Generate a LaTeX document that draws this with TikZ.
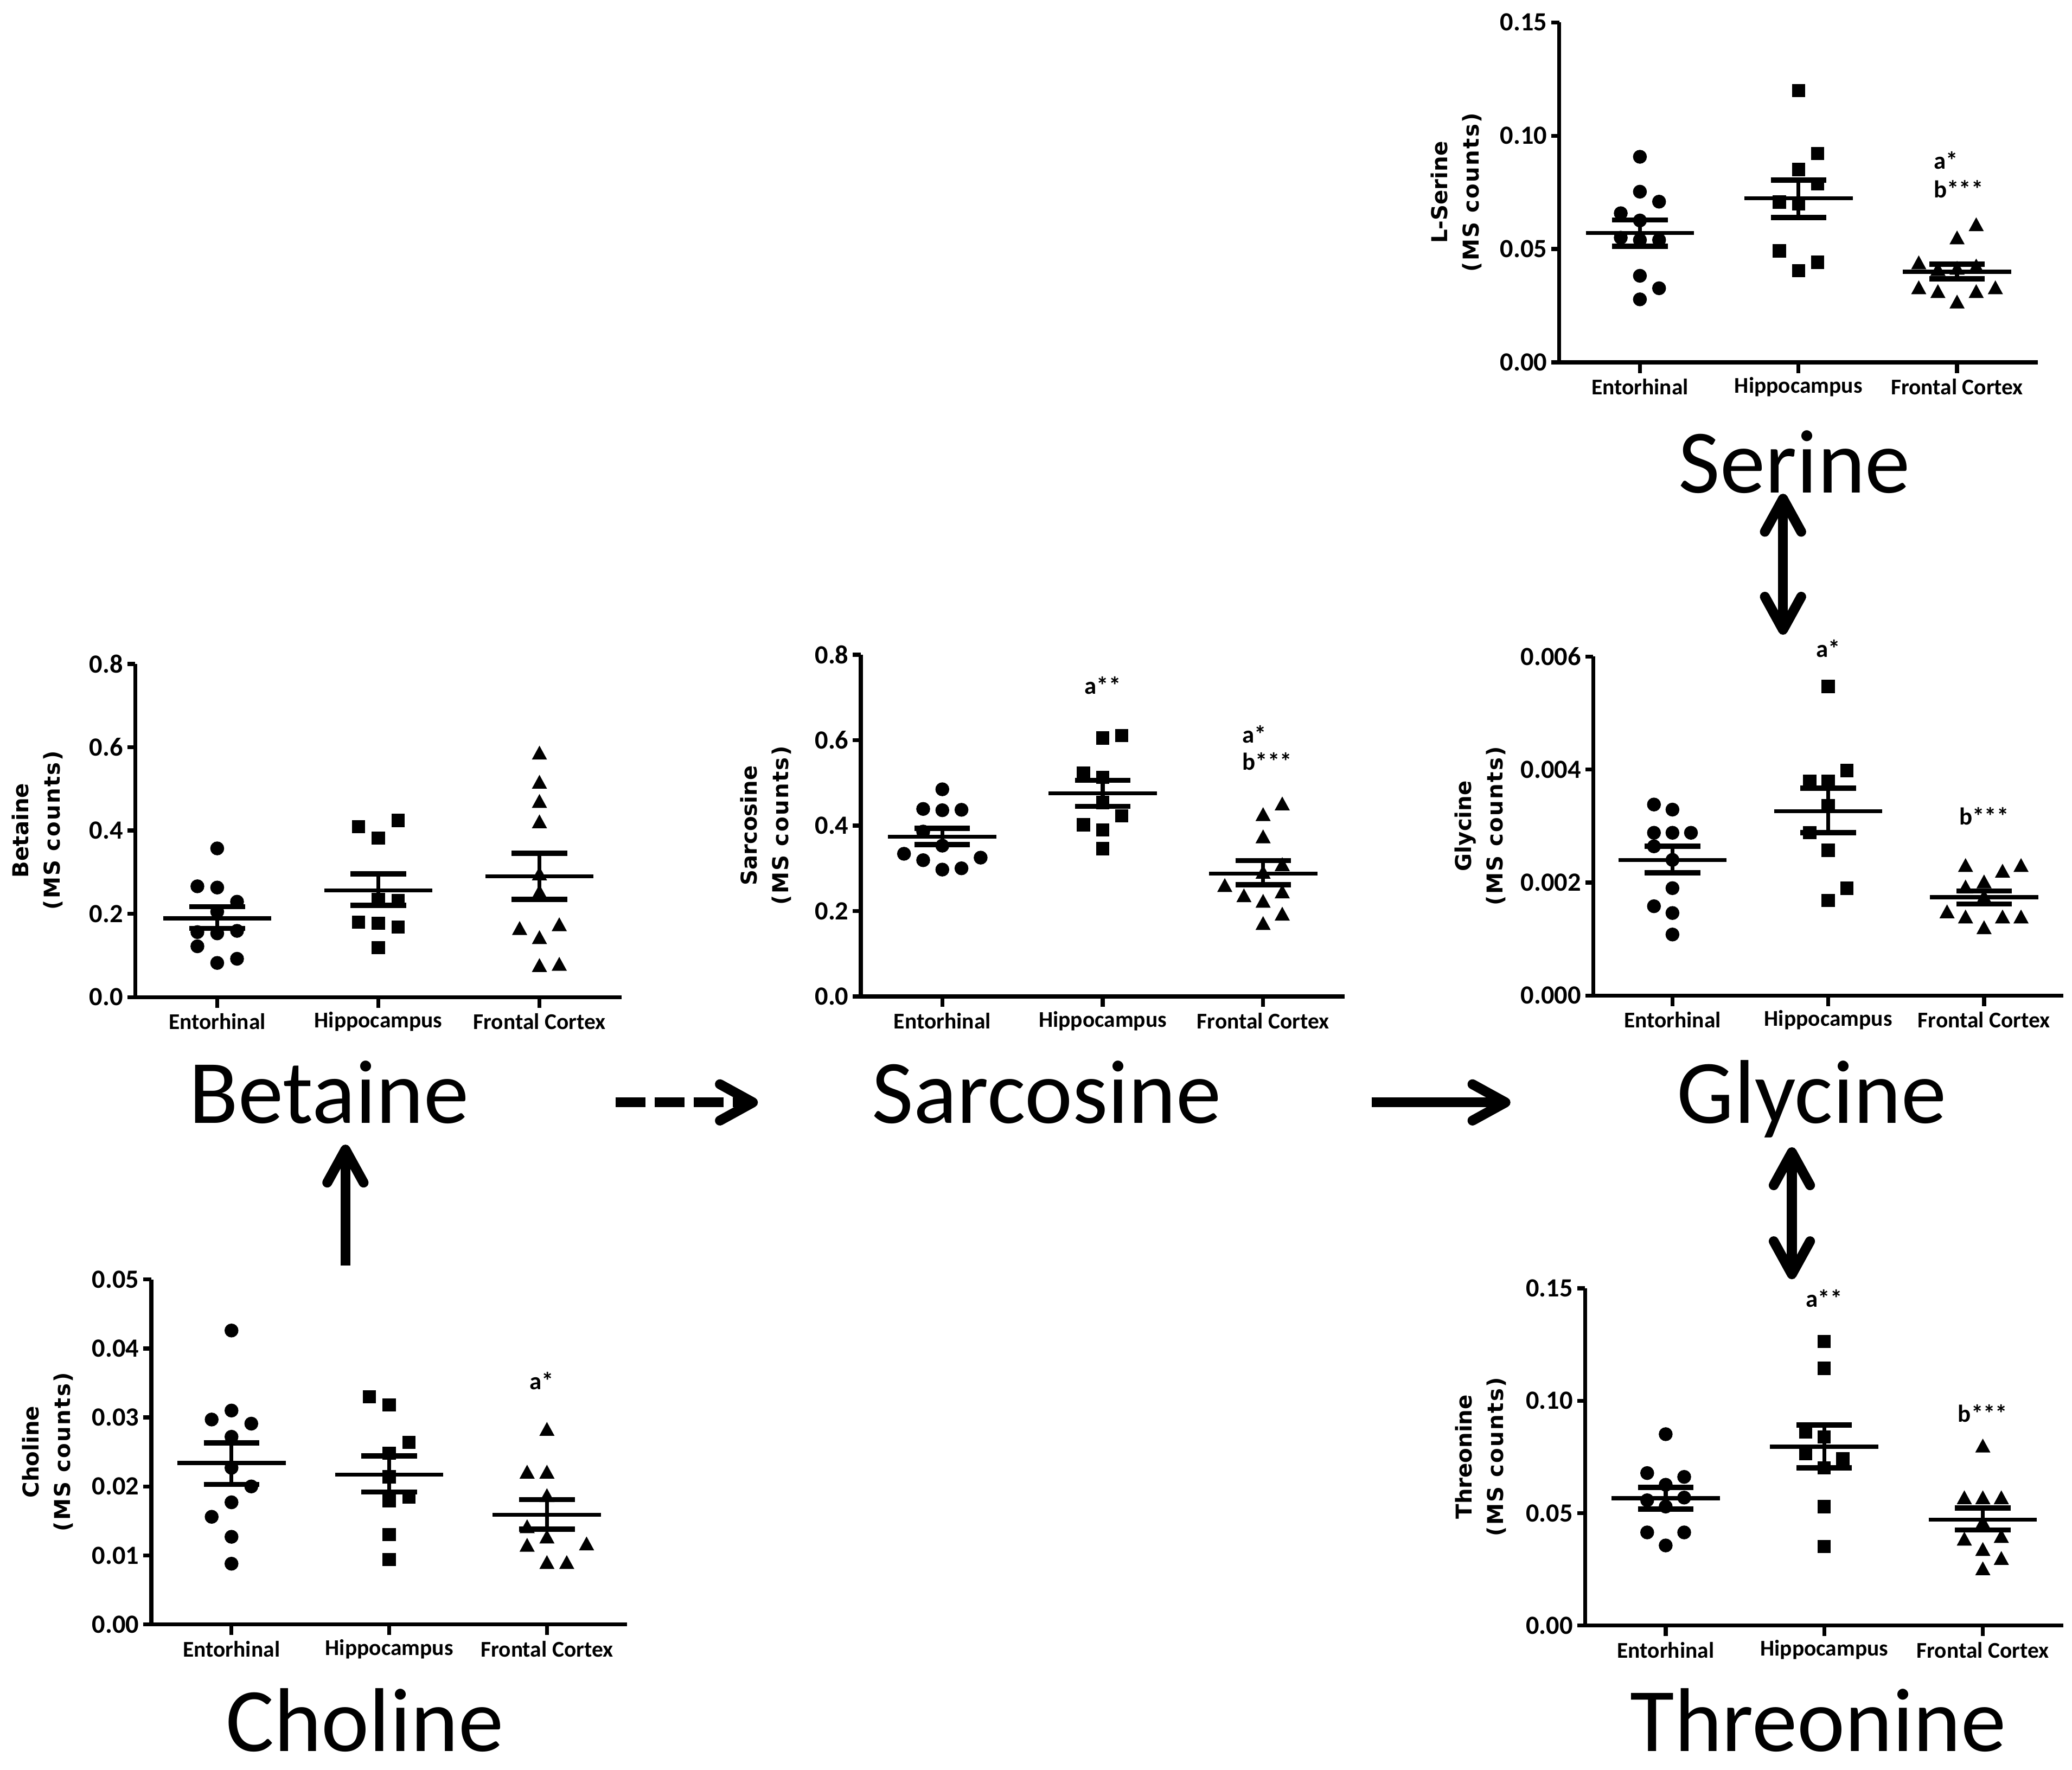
\documentclass[tikz,border=0pt]{standalone}
\usepackage{fontspec}
\setmainfont{Carlito}
\newfontfamily\labfont{DejaVu Sans}
\usetikzlibrary{arrows.meta}
\begin{document}
\begin{tikzpicture}[x=0.02cm,y=-0.02cm,
    axisline/.style={line width=0.06cm},
    meanline/.style={line width=0.06cm},
    semline/.style={line width=0.08cm},
    ticklab/.style={left,inner sep=1pt,font=\fontsize{11.3}{12}\selectfont\bfseries},
    grouplab/.style={inner sep=0pt,font=\fontsize{9.7}{11}\selectfont\bfseries},
    note/.style={inner sep=0pt,font=\fontsize{10.5}{11}\selectfont\bfseries},
    ylab/.style={rotate=90,align=center,inner sep=0pt,font=\labfont\bfseries\fontsize{9.4}{13.6}\selectfont},
    bigname/.style={anchor=base,inner sep=0pt,text height=21pt,text depth=3pt,font=\fontsize{39}{40}\selectfont},
    oneway/.style={line width=0.15cm,-{Straight Barb[length=0.5cm,width=0.55cm,round]}},
    twoway/.style={line width=0.15cm,{Straight Barb[length=0.5cm,width=0.55cm,round]}-{Straight Barb[length=0.5cm,width=0.55cm,round]}}]
  \useasboundingbox (0,0) rectangle (1568,1339);

  % serine plot
  \begin{scope}[shift={(1180,274.2)},y={(0,0.3431cm)}]
    \draw[axisline] (0,15) -- (0,0) -- (362,0);
    \foreach \v/\t in {0/0.00,5/0.05,10/0.10,15/0.15}
      \draw[axisline] (0,\v) -- ++(-0.12cm,0) node[ticklab] (ser-y\v) {\t};
    \foreach \g/\t [count=\i] in {61/Entorhinal,181/Hippocampus,301/Frontal Cortex} {
      \draw[axisline] (\g,0) -- ++(0,-0.16cm);
      \node[grouplab] (ser-g\i) at ([yshift=-0.37cm]\g,0) {\t};
    }
    \foreach \k/\v in {0/9.07,0/7.53,1/7.09,-1/6.58,0/6.26,-1/5.5,0/5.4,1/5.4,0/3.82,1/3.27,0/2.78}
      \fill ([xshift=\k*0.29cm]61,\v) circle[radius=0.105cm];
    \foreach \k/\v in {0/11.99,1/9.21,0/8.51,1/7.88,-1/7.07,0/7.0,-1/4.92,1/4.42,0/4.05}
      \fill ([xshift=\k*0.29cm-0.1cm,yshift=-0.1cm]181,\v) rectangle ++(0.2cm,0.2cm);
    \foreach \k/\v in {1/6.02,0/5.44,-2/4.34,-1/4.05,0/4.1,1/4.2,-2/3.24,-1/3.07,1/3.07,2/3.24,0/2.61}
      \fill ([xshift=\k*0.29cm,yshift=0.13cm]301,\v) -- ++(-0.115cm,-0.21cm) -- ++(0.23cm,0) -- cycle;
    \foreach \g/\m/\hi/\lo in {61/5.71/6.28/5.13,181/7.24/8.05/6.39,301/4.0/4.34/3.68} {
      \draw[meanline] ([xshift=-0.82cm]\g,\m) -- ([xshift=0.82cm]\g,\m);
      \draw[semline] ([xshift=-0.42cm]\g,\hi) -- ([xshift=0.42cm]\g,\hi);
      \draw[semline] ([xshift=-0.42cm]\g,\lo) -- ([xshift=0.42cm]\g,\lo);
      \draw[meanline] (\g,\hi) -- (\g,\lo);
    }
    \node[note,anchor=west] (ser-a) at ([xshift=-0.36cm]301,8.92) {a*};
    \node[note,anchor=west] (ser-b) at ([xshift=-0.36cm]301,7.65) {b***};
    \node[ylab] (ser-ylab) at (-78,7.5) {L-Serine\\{\addfontfeature{LetterSpace=6}(MS counts)}};
  \end{scope}

  % betaine plot
  \begin{scope}[shift={(102.4,754.5)},x={(0.02033cm,0)},y={(0,0.6305cm)}]
    \draw[axisline] (0,8) -- (0,0) -- (362,0);
    \foreach \v/\t in {0/0.0,2/0.2,4/0.4,6/0.6,8/0.8}
      \draw[axisline] (0,\v) -- ++(-0.12cm,0) node[ticklab] (bet-y\v) {\t};
    \foreach \g/\t [count=\i] in {61/Entorhinal,181/Hippocampus,301/Frontal Cortex} {
      \draw[axisline] (\g,0) -- ++(0,-0.16cm);
      \node[grouplab] (bet-g\i) at ([yshift=-0.37cm]\g,0) {\t};
    }
    \foreach \k/\v in {0/3.57,-1/2.66,0/2.63,1/2.29,0/2.05,-1/1.56,0/1.53,1/1.59,-1/1.22,1/0.92,0/0.82}
      \fill ([xshift=\k*0.3cm]61,\v) circle[radius=0.105cm];
    \foreach \k/\v in {1/4.24,-1/4.09,0/3.82,0/2.35,1/2.32,-1/1.80,0/1.77,1/1.68,0/1.19}
      \fill ([xshift=\k*0.3cm-0.1cm,yshift=-0.1cm]181,\v) rectangle ++(0.2cm,0.2cm);
    \foreach \k/\v in {0/5.83,0/5.13,0/4.67,0/4.18,0/2.93,0/2.5,-1/1.62,1/1.71,0/1.40,0/0.73,1/0.76}
      \fill ([xshift=\k*0.3cm,yshift=0.13cm]301,\v) -- ++(-0.115cm,-0.21cm) -- ++(0.23cm,0) -- cycle;
    \foreach \g/\m/\hi/\lo in {61/1.89/2.17/1.65,181/2.56/2.96/2.20,301/2.90/3.45/2.35} {
      \draw[meanline] ([xshift=-0.82cm]\g,\m) -- ([xshift=0.82cm]\g,\m);
      \draw[semline] ([xshift=-0.42cm]\g,\hi) -- ([xshift=0.42cm]\g,\hi);
      \draw[semline] ([xshift=-0.42cm]\g,\lo) -- ([xshift=0.42cm]\g,\lo);
      \draw[meanline] (\g,\hi) -- (\g,\lo);
    }
    \node[ylab] (bet-ylab) at (-73,4) {Betaine\\{\addfontfeature{LetterSpace=6}(MS counts)}};
  \end{scope}

  % sarcosine plot
  \begin{scope}[shift={(651.4,754)},x={(0.02024cm,0)},y={(0,0.6465cm)}]
    \draw[axisline] (0,8) -- (0,0) -- (362,0);
    \foreach \v/\t in {0/0.0,2/0.2,4/0.4,6/0.6,8/0.8}
      \draw[axisline] (0,\v) -- ++(-0.12cm,0) node[ticklab] (sar-y\v) {\t};
    \foreach \g/\t [count=\i] in {61/Entorhinal,181/Hippocampus,301/Frontal Cortex} {
      \draw[axisline] (\g,0) -- ++(0,-0.16cm);
      \node[grouplab] (sar-g\i) at ([yshift=-0.37cm]\g,0) {\t};
    }
    \foreach \k/\v in {0/4.85,-1/4.39,0/4.36,1/4.37,-1/3.86,0/3.53,-2/3.34,2/3.25,-1/3.19,0/2.97,1/3.00}
      \fill ([xshift=\k*0.29cm]61,\v) circle[radius=0.105cm];
    \foreach \k/\v in {0/6.05,1/6.11,-1/5.23,0/5.13,0/4.54,1/4.23,-1/4.02,0/3.90,0/3.46}
      \fill ([xshift=\k*0.29cm-0.1cm,yshift=-0.1cm]181,\v) rectangle ++(0.2cm,0.2cm);
    \foreach \k/\v in {1/4.48,0/4.23,0/3.71,1/3.06,0/2.88,-2/2.57,-1/2.33,1/2.42,0/2.20,1/1.90,0/1.68}
      \fill ([xshift=\k*0.29cm,yshift=0.13cm]301,\v) -- ++(-0.115cm,-0.21cm) -- ++(0.23cm,0) -- cycle;
    \foreach \g/\m/\hi/\lo in {61/3.74/3.94/3.56,181/4.76/5.06/4.45,301/2.88/3.18/2.62} {
      \draw[meanline] ([xshift=-0.82cm]\g,\m) -- ([xshift=0.82cm]\g,\m);
      \draw[semline] ([xshift=-0.42cm]\g,\hi) -- ([xshift=0.42cm]\g,\hi);
      \draw[semline] ([xshift=-0.42cm]\g,\lo) -- ([xshift=0.42cm]\g,\lo);
      \draw[meanline] (\g,\hi) -- (\g,\lo);
    }
    \node[note] (sar-a1) at (181,7.28) {a**};
    \node[note,anchor=west] (sar-a2) at ([xshift=-0.32cm]301,6.14) {a*};
    \node[note,anchor=west] (sar-b2) at ([xshift=-0.32cm]301,5.50) {b***};
    \node[ylab] (sar-ylab) at (-71,4) {Sarcosine\\{\addfontfeature{LetterSpace=6}(MS counts)}};
  \end{scope}

  % glycine plot
  \begin{scope}[shift={(1205.7,753.3)},x={(0.01966cm,0)},y={(0,0.8553cm)}]
    \draw[axisline] (0,6) -- (0,0) -- (362,0);
    \foreach \v/\t in {0/0.000,2/0.002,4/0.004,6/0.006}
      \draw[axisline] (0,\v) -- ++(-0.12cm,0) node[ticklab] (gly-y\v) {\t};
    \foreach \g/\t [count=\i] in {61/Entorhinal,181/Hippocampus,301/Frontal Cortex} {
      \draw[axisline] (\g,0) -- ++(0,-0.16cm);
      \node[grouplab] (gly-g\i) at ([yshift=-0.37cm]\g,0) {\t};
    }
    \foreach \k/\v in {-1/3.38,0/3.29,-1/2.88,0/2.88,1/2.88,-1/2.64,0/2.40,0/1.90,-1/1.58,0/1.46,0/1.08}
      \fill ([xshift=\k*0.28cm]61,\v) circle[radius=0.105cm];
    \foreach \k/\v in {0/5.47,1/3.98,-1/3.79,0/3.79,0/3.36,-1/2.88,0/2.57,1/1.90,0/1.68}
      \fill ([xshift=\k*0.28cm-0.1cm,yshift=-0.1cm]181,\v) rectangle ++(0.2cm,0.2cm);
    \foreach \k/\v in {-1/2.28,1/2.18,2/2.28,0/1.99,-1/1.90,0/1.73,-2/1.46,-1/1.37,1/1.37,2/1.37,0/1.18}
      \fill ([xshift=\k*0.28cm,yshift=0.13cm]301,\v) -- ++(-0.115cm,-0.21cm) -- ++(0.23cm,0) -- cycle;
    \foreach \g/\m/\hi/\lo in {61/2.40/2.64/2.17,181/3.26/3.67/2.88,301/1.74/1.85/1.62} {
      \draw[meanline] ([xshift=-0.82cm]\g,\m) -- ([xshift=0.82cm]\g,\m);
      \draw[semline] ([xshift=-0.42cm]\g,\hi) -- ([xshift=0.42cm]\g,\hi);
      \draw[semline] ([xshift=-0.42cm]\g,\lo) -- ([xshift=0.42cm]\g,\lo);
      \draw[meanline] (\g,\hi) -- (\g,\lo);
    }
    \node[note] (gly-a) at (181,6.14) {a*};
    \node[note] (gly-b) at (301,3.17) {b***};
    \node[ylab] (gly-ylab) at (-87,3) {Glycine\\{\addfontfeature{LetterSpace=6}(MS counts)}};
  \end{scope}

  % choline plot
  \begin{scope}[shift={(114.5,1229.2)},x={(0.0199cm,0)},y={(0,1.0444cm)}]
    \draw[axisline] (0,5) -- (0,0) -- (362,0);
    \foreach \v/\t in {0/0.00,1/0.01,2/0.02,3/0.03,4/0.04,5/0.05}
      \draw[axisline] (0,\v) -- ++(-0.12cm,0) node[ticklab] (cho-y\v) {\t};
    \foreach \g/\t [count=\i] in {61/Entorhinal,181/Hippocampus,301/Frontal Cortex} {
      \draw[axisline] (\g,0) -- ++(0,-0.16cm);
      \node[grouplab] (cho-g\i) at ([yshift=-0.37cm]\g,0) {\t};
    }
    \foreach \k/\v in {0/4.26,0/3.10,-1/2.97,1/2.91,0/2.72,0/2.27,1/2.00,0/1.77,-1/1.56,0/1.27,0/0.88}
      \fill ([xshift=\k*0.3cm]61,\v) circle[radius=0.105cm];
    \foreach \k/\v in {-1/3.30,0/3.18,1/2.64,0/2.48,0/2.14,1/1.85,0/1.79,0/1.30,0/0.94}
      \fill ([xshift=\k*0.3cm-0.1cm,yshift=-0.1cm]181,\v) rectangle ++(0.2cm,0.2cm);
    \foreach \k/\v in {0/2.81,-1/2.19,0/2.19,0/1.85,-1/1.40,0/1.25,-1/1.13,2/1.15,0/0.88,1/0.88}
      \fill ([xshift=\k*0.3cm,yshift=0.13cm]301,\v) -- ++(-0.115cm,-0.21cm) -- ++(0.23cm,0) -- cycle;
    \foreach \g/\m/\hi/\lo in {61/2.34/2.63/2.03,181/2.17/2.44/1.92,301/1.59/1.81/1.38} {
      \draw[meanline] ([xshift=-0.82cm]\g,\m) -- ([xshift=0.82cm]\g,\m);
      \draw[semline] ([xshift=-0.42cm]\g,\hi) -- ([xshift=0.42cm]\g,\hi);
      \draw[semline] ([xshift=-0.42cm]\g,\lo) -- ([xshift=0.42cm]\g,\lo);
      \draw[meanline] (\g,\hi) -- (\g,\lo);
    }
    \node[note] (cho-a) at (297,3.53) {a*};
    \node[ylab] (cho-ylab) at (-79,2.5) {Choline\\{\addfontfeature{LetterSpace=6}(MS counts)}};
  \end{scope}

  % threonine plot
  \begin{scope}[shift={(1199.5,1230)},y={(0,0.3403cm)}]
    \draw[axisline] (0,15) -- (0,0) -- (362,0);
    \foreach \v/\t in {0/0.00,5/0.05,10/0.10,15/0.15}
      \draw[axisline] (0,\v) -- ++(-0.12cm,0) node[ticklab] (thr-y\v) {\t};
    \foreach \g/\t [count=\i] in {61/Entorhinal,181/Hippocampus,301/Frontal Cortex} {
      \draw[axisline] (\g,0) -- ++(0,-0.16cm);
      \node[grouplab] (thr-g\i) at ([yshift=-0.37cm]\g,0) {\t};
    }
    \foreach \k/\v in {0/8.51,-1/6.78,1/6.61,0/6.26,-1/5.57,1/5.69,0/5.29,-1/4.14,1/4.14,0/3.56}
      \fill ([xshift=\k*0.28cm]61,\v) circle[radius=0.105cm];
    \foreach \k/\v in {0/12.64,0/11.44,-1/8.62,0/8.39,-1/7.64,1/7.41,0/7.01,0/5.29,0/3.51}
      \fill ([xshift=\k*0.28cm-0.1cm,yshift=-0.1cm]181,\v) rectangle ++(0.2cm,0.2cm);
    \foreach \k/\v in {0/7.93,-1/5.63,0/5.63,1/5.63,0/4.54,-1/3.79,1/3.91,0/3.33,1/2.93,0/2.47}
      \fill ([xshift=\k*0.28cm,yshift=0.13cm]301,\v) -- ++(-0.115cm,-0.21cm) -- ++(0.23cm,0) -- cycle;
    \foreach \g/\m/\hi/\lo in {61/5.66/6.15/5.17,181/7.95/8.91/7.01,301/4.71/5.23/4.25} {
      \draw[meanline] ([xshift=-0.82cm]\g,\m) -- ([xshift=0.82cm]\g,\m);
      \draw[semline] ([xshift=-0.42cm]\g,\hi) -- ([xshift=0.42cm]\g,\hi);
      \draw[semline] ([xshift=-0.42cm]\g,\lo) -- ([xshift=0.42cm]\g,\lo);
      \draw[meanline] (\g,\hi) -- (\g,\lo);
    }
    \node[note] (thr-a) at (181,14.54) {a**};
    \node[note] (thr-b) at (301,9.43) {b***};
    \node[ylab] (thr-ylab) at (-79,7.5) {Threonine\\{\addfontfeature{LetterSpace=6}(MS counts)}};
  \end{scope}

  % metabolite names
  \node[bigname] (serine) at (1358,373) {Serine};
  \node[bigname] (betaine) at (249,850) {Betaine};
  \node[bigname] (sarcosine) at (792,850) {Sarcosine};
  \node[bigname] (glycine) at (1371,850) {Glycine};
  \node[bigname] (choline) at (276,1325) {Choline};
  \node[bigname] (threonine) at (1376,1325) {Threonine};

  % pathway arrows
  \coordinate (sg-foot) at (1349.3,480.3);
  \coordinate (gt-foot) at (1356,968);
  \coordinate (cb-foot) at (261.4,957.8);
  \draw[oneway,dash pattern=on 0.45cm off 0.14cm,shorten <=4.34cm,shorten >=4.37cm] (betaine.center) -- (sarcosine.center);
  \draw[oneway,shorten <=4.92cm,shorten >=4.56cm] (sarcosine.center) -- (glycine.center);
  \draw[twoway,shorten <=-0.1cm] (serine.south -| sg-foot) -- (sg-foot);
  \draw[twoway,shorten <=0.25cm] (glycine.south -| gt-foot) -- (gt-foot);
  \draw[oneway,shorten >=0.21cm] (cb-foot) -- (cb-foot |- betaine.south);
\end{tikzpicture}
\end{document}
